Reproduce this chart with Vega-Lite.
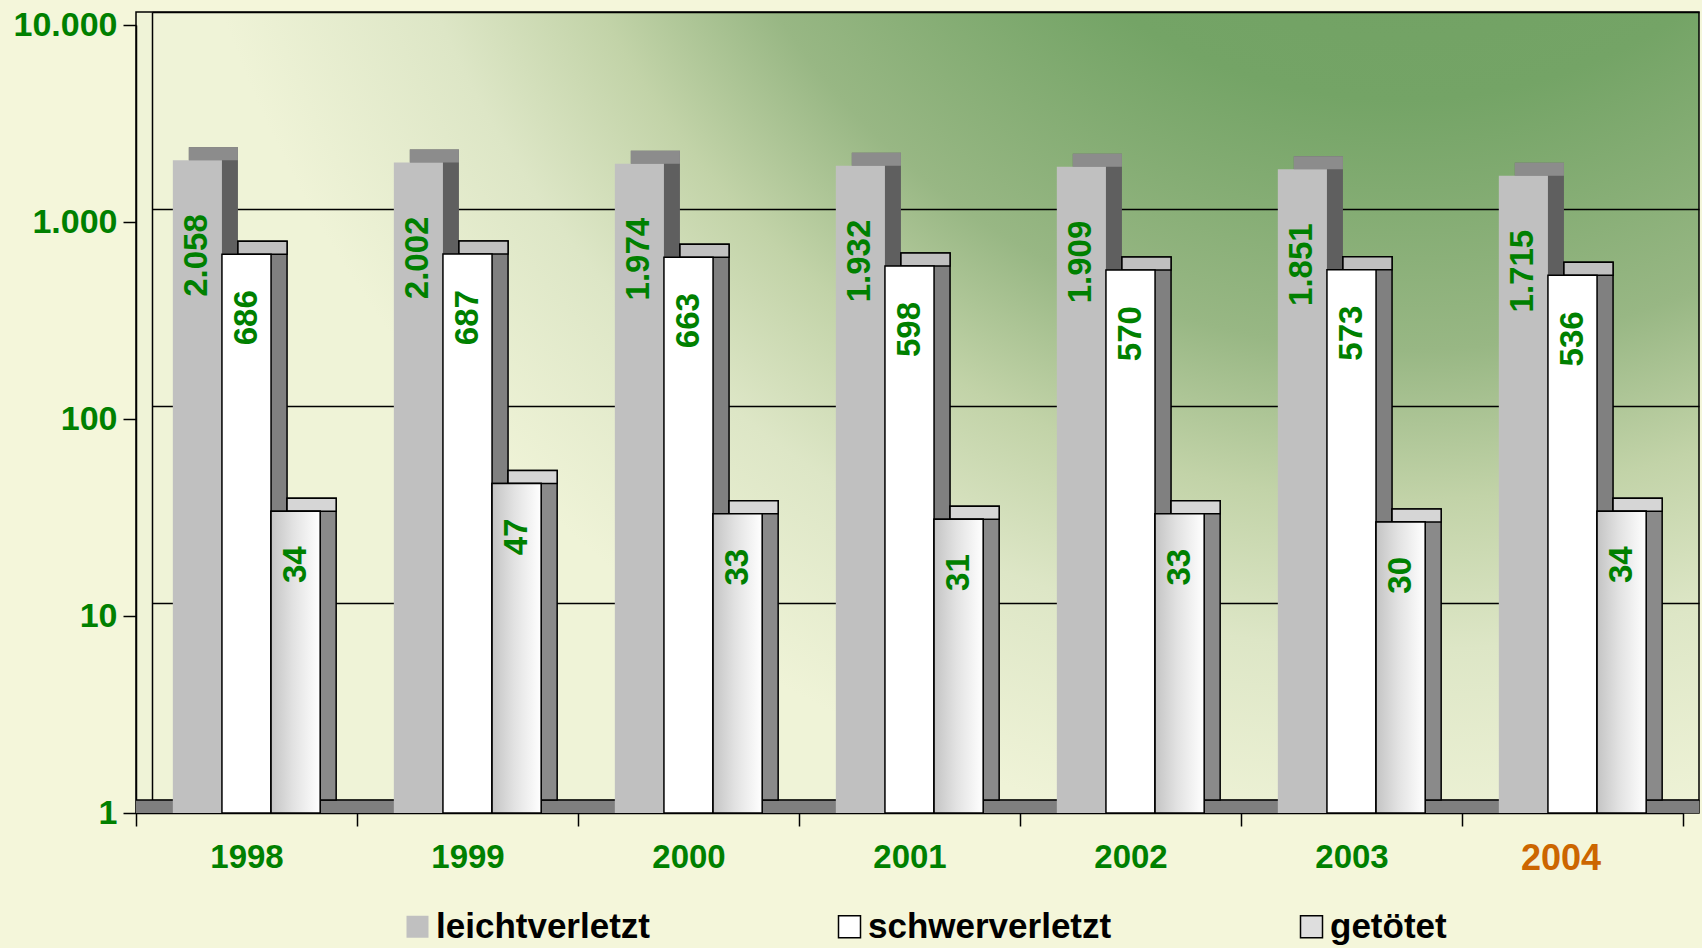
{
  "$schema": "https://vega.github.io/schema/vega-lite/v6.json",
  "autosize": "none",
  "width": 1563,
  "height": 801,
  "padding": {"left": 136, "top": 12, "right": 3, "bottom": 135},
  "background": "#f4f6da",
  "config": {
    "font": "Liberation Sans",
    "locale": {"number": {"decimal": ",", "thousands": ".", "grouping": [3], "currency": ["", " €"]}},
    "view": {
      "stroke": "#000000",
      "strokeWidth": 1.5,
      "fill": {
        "gradient": "radial",
        "x1": 0.81, "y1": -0.02, "r1": 0,
        "x2": 0.81, "y2": -0.02, "r2": 0.8,
        "stops": [
          {"offset": 0, "color": "#6c9c5e"},
          {"offset": 0.4, "color": "#74a466"},
          {"offset": 0.6, "color": "#98b784"},
          {"offset": 0.72, "color": "#c2d3a8"},
          {"offset": 0.84, "color": "#dde6c6"},
          {"offset": 1, "color": "#eff3d7"}
        ]
      }
    }
  },
  "datasets": {
    "unfaelle": [
      {"year": "1998", "series": "leichtverletzt", "value": 2058},
      {"year": "1998", "series": "schwerverletzt", "value": 686},
      {"year": "1998", "series": "getötet", "value": 34},
      {"year": "1999", "series": "leichtverletzt", "value": 2002},
      {"year": "1999", "series": "schwerverletzt", "value": 687},
      {"year": "1999", "series": "getötet", "value": 47},
      {"year": "2000", "series": "leichtverletzt", "value": 1974},
      {"year": "2000", "series": "schwerverletzt", "value": 663},
      {"year": "2000", "series": "getötet", "value": 33},
      {"year": "2001", "series": "leichtverletzt", "value": 1932},
      {"year": "2001", "series": "schwerverletzt", "value": 598},
      {"year": "2001", "series": "getötet", "value": 31},
      {"year": "2002", "series": "leichtverletzt", "value": 1909},
      {"year": "2002", "series": "schwerverletzt", "value": 570},
      {"year": "2002", "series": "getötet", "value": 33},
      {"year": "2003", "series": "leichtverletzt", "value": 1851},
      {"year": "2003", "series": "schwerverletzt", "value": 573},
      {"year": "2003", "series": "getötet", "value": 30},
      {"year": "2004", "series": "leichtverletzt", "value": 1715},
      {"year": "2004", "series": "schwerverletzt", "value": 536},
      {"year": "2004", "series": "getötet", "value": 34}
    ]
  },
  "layer": [
    {
      "data": {"name": "unfaelle"},
      "layer": [
        {
          "data": {"values": [{}]},
          "mark": {"type": "rule", "color": "#7f7f7f", "strokeWidth": 13, "yOffset": 6.5},
          "encoding": {
            "y": {
              "datum": 1, "type": "quantitative",
              "scale": {"type": "log", "domain": [1, 10000], "range": [788, 0]},
              "axis": {
                "orient": "left", "title": null, "values": [1, 10, 100, 1000, 10000],
                "grid": true, "gridColor": "#000000", "gridWidth": 1.3,
                "labels": false, "ticks": false,
                "domain": true, "domainColor": "#000000", "domainWidth": 1.5,
                "offset": -16
              }
            }
          }
        },
        {
          "data": {"values": [{}]},
          "mark": {"type": "rule", "color": "#000000", "strokeWidth": 1.5},
          "encoding": {
            "y": {"datum": 1, "type": "quantitative", "scale": {"type": "log", "domain": [1, 10000], "range": [788, 0]}}
          }
        },
        {
          "mark": {"type": "bar", "strokeWidth": 1.5},
          "encoding": {
            "x": {"field": "year", "type": "nominal", "scale": {"range": [16, 1563], "paddingInner": 0, "paddingOuter": 0}, "axis": null},
            "xOffset": {"field": "series", "type": "nominal", "scale": {"domain": ["leichtverletzt", "schwerverletzt", "getötet"], "paddingInner": 0, "paddingOuter": 0.75}},
            "y": {"field": "value", "type": "quantitative", "scale": {"type": "log", "domain": [1, 10000], "range": [788, 0]}},
            "y2": {"datum": 1},
            "color": {"field": "series", "type": "nominal", "scale": {"domain": ["leichtverletzt", "schwerverletzt", "getötet"], "range": ["#5f5f5f", "#808080", "#8a8a8a"]}, "legend": null},
            "stroke": {"field": "series", "type": "nominal", "scale": {"domain": ["leichtverletzt", "schwerverletzt", "getötet"], "range": ["transparent", "#000000", "#000000"]}, "legend": null}
          }
        },
        {
          "mark": {"type": "bar", "strokeWidth": 1.5, "y2Offset": 13},
          "encoding": {
            "x": {"field": "year", "type": "nominal", "scale": {"range": [16, 1563], "paddingInner": 0, "paddingOuter": 0}, "axis": null},
            "xOffset": {"field": "series", "type": "nominal", "scale": {"domain": ["leichtverletzt", "schwerverletzt", "getötet"], "paddingInner": 0, "paddingOuter": 0.75}},
            "y": {"field": "value", "type": "quantitative", "scale": {"type": "log", "domain": [1, 10000], "range": [788, 0]}},
            "y2": {"field": "value"},
            "fill": {"field": "series", "type": "nominal", "scale": {"domain": ["leichtverletzt", "schwerverletzt", "getötet"], "range": ["#8c8c8c", "#c0c0c0", "#d6d6d6"]}, "legend": null},
            "stroke": {"field": "series", "type": "nominal", "scale": {"domain": ["leichtverletzt", "schwerverletzt", "getötet"], "range": ["transparent", "#000000", "#000000"]}, "legend": null}
          }
        }
      ]
    },
    {
      "data": {"name": "unfaelle"},
      "layer": [
        {
          "mark": {"type": "bar", "strokeWidth": 1.5},
          "encoding": {
            "x": {
              "field": "year", "type": "nominal",
              "scale": {"range": [0, 1547], "paddingInner": 0, "paddingOuter": 0},
              "axis": {
                "orient": "bottom", "title": null, "labelAngle": 0,
                "domainColor": "#000000", "domainWidth": 1.5,
                "tickColor": "#000000", "tickWidth": 1.5, "tickSize": 13, "tickBand": "extent",
                "labelFontWeight": "bold",
                "labelFontSize": {"condition": {"test": "datum.value == '2004'", "value": 36}, "value": 33},
                "labelColor": {"condition": {"test": "datum.value == '2004'", "value": "#cc6600"}, "value": "#008000"},
                "labelOffset": {"condition": {"test": "datum.value == '2004'", "value": -12}, "value": 0},
                "labelPadding": 15
              }
            },
            "xOffset": {"field": "series", "type": "nominal", "scale": {"domain": ["leichtverletzt", "schwerverletzt", "getötet"], "paddingInner": 0, "paddingOuter": 0.75}},
            "y": {
              "field": "value", "type": "quantitative",
              "scale": {"type": "log", "domain": [1, 10000], "range": [801, 13]},
              "axis": {
                "orient": "left", "title": null, "values": [1, 10, 100, 1000, 10000], "format": ",d",
                "grid": false, "domainColor": "#000000", "domainWidth": 1.5,
                "tickColor": "#000000", "tickWidth": 1.5, "tickSize": 13,
                "labelFontSize": 34, "labelFontWeight": "bold", "labelColor": "#008000", "labelPadding": 6
              }
            },
            "y2": {"datum": 1},
            "color": {
              "field": "series", "type": "nominal",
              "scale": {
                "domain": ["leichtverletzt", "schwerverletzt", "getötet"],
                "range": ["#c0c0c0", "#ffffff", "#dedede"]
              },
              "legend": {
                "orient": "none", "legendX": 264, "legendY": 897, "direction": "horizontal",
                "title": null, "symbolType": "square", "symbolSize": 484,
                "labelFontSize": 35, "labelFontWeight": "bold", "labelColor": "#000000",
                "labelOffset": 1, "columnPadding": 182, "labelLimit": 0, "padding": 0,
                "symbolStrokeWidth": 1.5, "symbolOpacity": 1,
                "encode": {"symbols": {"update": {"stroke": {"signal": "datum.value === 'leichtverletzt' ? 'transparent' : '#000000'"}}}}
              }
            },
            "stroke": {"field": "series", "type": "nominal", "scale": {"domain": ["leichtverletzt", "schwerverletzt", "getötet"], "range": ["transparent", "#000000", "#000000"]}, "legend": null}
          }
        },
        {
          "transform": [{"filter": "datum.series == 'getötet'"}],
          "mark": {
            "type": "bar", "strokeWidth": 1.5, "stroke": "#000000",
            "fill": {"gradient": "linear", "x1": 0, "y1": 0, "x2": 1, "y2": 0, "stops": [{"offset": 0, "color": "#c4c4c4"}, {"offset": 0.45, "color": "#e2e2e2"}, {"offset": 1, "color": "#ffffff"}]}
          },
          "encoding": {
            "x": {"field": "year", "type": "nominal", "scale": {"range": [0, 1547], "paddingInner": 0, "paddingOuter": 0}},
            "xOffset": {"field": "series", "type": "nominal", "scale": {"domain": ["leichtverletzt", "schwerverletzt", "getötet"], "paddingInner": 0, "paddingOuter": 0.75}},
            "y": {"field": "value", "type": "quantitative", "scale": {"type": "log", "domain": [1, 10000], "range": [801, 13]}},
            "y2": {"datum": 1}
          }
        },
        {
          "transform": [{"filter": "datum.series == 'leichtverletzt'"}],
          "mark": {"type": "text", "angle": 270, "align": "right", "baseline": "middle", "yOffset": 54, "color": "#008000", "fontSize": 33, "fontWeight": "bold"},
          "encoding": {
            "x": {"field": "year", "type": "nominal", "scale": {"range": [0, 1547], "paddingInner": 0, "paddingOuter": 0}},
            "xOffset": {"field": "series", "type": "nominal", "scale": {"domain": ["leichtverletzt", "schwerverletzt", "getötet"], "paddingInner": 0, "paddingOuter": 0.75}},
            "y": {"field": "value", "type": "quantitative", "scale": {"type": "log", "domain": [1, 10000], "range": [801, 13]}},
            "text": {"field": "value", "type": "quantitative", "format": ",d"}
          }
        },
        {
          "transform": [{"filter": "datum.series == 'schwerverletzt'"}],
          "mark": {"type": "text", "angle": 270, "align": "right", "baseline": "middle", "yOffset": 36, "color": "#008000", "fontSize": 33, "fontWeight": "bold"},
          "encoding": {
            "x": {"field": "year", "type": "nominal", "scale": {"range": [0, 1547], "paddingInner": 0, "paddingOuter": 0}},
            "xOffset": {"field": "series", "type": "nominal", "scale": {"domain": ["leichtverletzt", "schwerverletzt", "getötet"], "paddingInner": 0, "paddingOuter": 0.75}},
            "y": {"field": "value", "type": "quantitative", "scale": {"type": "log", "domain": [1, 10000], "range": [801, 13]}},
            "text": {"field": "value", "type": "quantitative", "format": ",d"}
          }
        },
        {
          "transform": [{"filter": "datum.series == 'getötet'"}],
          "mark": {"type": "text", "angle": 270, "align": "right", "baseline": "middle", "yOffset": 35, "color": "#008000", "fontSize": 33, "fontWeight": "bold"},
          "encoding": {
            "x": {"field": "year", "type": "nominal", "scale": {"range": [0, 1547], "paddingInner": 0, "paddingOuter": 0}},
            "xOffset": {"field": "series", "type": "nominal", "scale": {"domain": ["leichtverletzt", "schwerverletzt", "getötet"], "paddingInner": 0, "paddingOuter": 0.75}},
            "y": {"field": "value", "type": "quantitative", "scale": {"type": "log", "domain": [1, 10000], "range": [801, 13]}},
            "text": {"field": "value", "type": "quantitative", "format": ",d"}
          }
        }
      ]
    }
  ],
  "resolve": {
    "scale": {"x": "independent", "y": "independent", "xOffset": "independent", "color": "independent", "stroke": "independent", "fill": "independent"},
    "axis": {"x": "independent", "y": "independent"},
    "legend": {"color": "independent", "stroke": "independent", "fill": "independent"}
  }
}
